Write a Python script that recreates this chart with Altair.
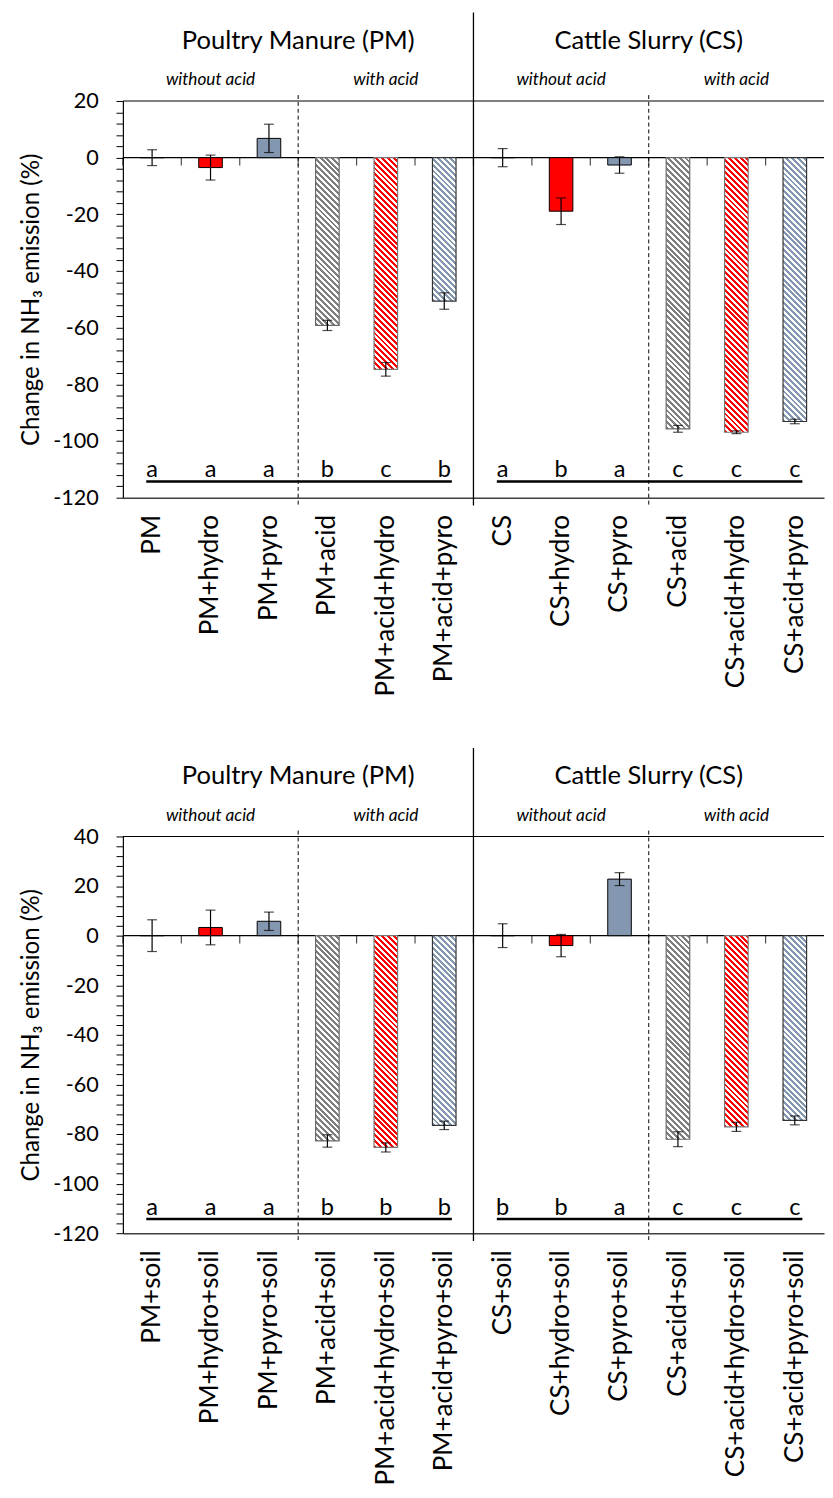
import altair as alt
import pandas as pd

# ---------------- data ----------------
cats_top = ["PM", "PM+hydro", "PM+pyro", "PM+acid", "PM+acid+hydro", "PM+acid+pyro",
            "CS", "CS+hydro", "CS+pyro", "CS+acid", "CS+acid+hydro", "CS+acid+pyro"]
vals_top = [0.0, -3.5, 6.8, -59.2, -74.7, -50.6, 0.0, -18.9, -2.6, -95.7, -96.9, -93.1]
errs_top = [2.8, 4.4, 5.0, 1.8, 2.4, 2.9, 3.2, 4.7, 2.9, 1.2, 0.5, 0.8]
letters_top = ["a", "a", "a", "b", "c", "b", "a", "b", "a", "c", "c", "c"]

cats_bot = ["PM+soil", "PM+hydro+soil", "PM+pyro+soil", "PM+acid+soil", "PM+acid+hydro+soil",
            "PM+acid+pyro+soil", "CS+soil", "CS+hydro+soil", "CS+pyro+soil", "CS+acid+soil",
            "CS+acid+hydro+soil", "CS+acid+pyro+soil"]
vals_bot = [0.0, 3.3, 5.8, -82.8, -85.4, -76.5, 0.0, -4.0, 22.8, -82.1, -77.1, -74.5]
errs_bot = [6.4, 7.0, 3.7, 2.5, 1.85, 1.7, 4.8, 4.5, 2.6, 3.0, 1.85, 1.8]
letters_bot = ["a", "a", "a", "b", "b", "b", "b", "b", "a", "c", "c", "c"]

kinds = ["none", "hydro", "pyro"] * 4
acid_flags = [False] * 3 + [True] * 3 + [False] * 3 + [True] * 3

group_titles = ["Poultry Manure (PM)", "Cattle Slurry (CS)"]
sub_titles = ["without acid", "with acid", "without acid", "with acid"]
y_title = "Change in NH\u2083 emission (%)"

# ---------------- style ----------------
W, H = 714, 404
BAR = 24
YMIN = -120
FONT = "Lato"
COL = {"none": "#7f7f7f", "hydro": "#ff0000", "pyro": "#8497b0"}
EDGE = {"none": "#6a6a6a", "hydro": "#777777", "pyro": "#333333"}


def stripes(color, h_px, w_px=BAR, period=6.0, frac=0.5):
    """45-degree 'downward diagonal' hatch as a striped linear gradient."""
    h_px = max(h_px, 1.0)
    r = h_px / w_px
    k = (1 + r) / (1 + r * r)
    n = (w_px + h_px) / period
    stops = []
    i = 0
    while i / n < 1:
        a = i / n
        b = min((i + frac) / n, 1.0)
        c = min((i + 1) / n, 1.0)
        stops += [{"offset": a, "color": color}, {"offset": b, "color": color},
                  {"offset": b, "color": "#ffffff"}, {"offset": c, "color": "#ffffff"}]
        i += 1
    return {"gradient": "linear", "x1": 0, "y1": 1, "x2": k, "y2": 1 - k * r, "stops": stops}


def panel(cats, vals, errs, letters, ymax):
    df = pd.DataFrame({"cat": cats, "value": vals, "err": errs, "letter": letters,
                       "kind": kinds, "acid": acid_flags})
    xs = alt.Scale(domain=cats, paddingInner=0, paddingOuter=0)
    ys = alt.Scale(domain=[YMIN, ymax], nice=False, zero=False)

    x_axis = alt.Axis(orient="bottom", title=None, labelAngle=270, labelFontSize=26.5,
                      labelFont=FONT, labelColor="black", labelPadding=17, labelLimit=600,
                      ticks=False, domain=True, domainColor="#404040", domainWidth=1.5,
                      grid=False)
    y_axis = alt.Axis(title=y_title, values=list(range(YMIN, ymax + 1, 4)),
                      labelExpr="datum.value % 20 == 0 ? '' + datum.value : ''",
                      tickSize=7, tickColor="black", domainColor="black", domainWidth=1.2,
                      labelPadding=18, labelFontSize=22, labelFont=FONT, labelColor="black",
                      titleFont=FONT, titleFontSize=24.5, titleFontWeight="normal",
                      titleColor="black", titlePadding=9, grid=False)

    base = alt.Chart(df)

    def X(field="cat", **kw):
        return alt.X(f"{field}:N", scale=xs, axis=x_axis, **kw)

    def Y(field):
        return alt.Y(f"{field}:Q", scale=ys, axis=y_axis)

    def YD(v):
        return alt.YDatum(v, axis=y_axis)

    layers = []

    # top border and zero line
    layers.append(alt.Chart(pd.DataFrame({"y": [ymax, 0]}))
                  .mark_rule(color="black", strokeWidth=1.2)
                  .encode(y=Y("y")))

    # separators
    layers.append(alt.Chart(pd.DataFrame({"at": [cats[3], cats[9]]}))
                  .mark_rule(color="black", strokeWidth=1, strokeDash=[4, 3])
                  .encode(x=X("at", bandPosition=0), y=alt.value(-6), y2=alt.value(H + 8)))
    layers.append(alt.Chart(pd.DataFrame({"at": [cats[6]]}))
                  .mark_rule(color="black", strokeWidth=1.3)
                  .encode(x=X("at", bandPosition=0), y=alt.value(-90), y2=alt.value(H + 8)))

    # solid bars
    layers.append(base.transform_filter("!datum.acid")
                  .mark_bar(size=BAR, stroke="black", strokeWidth=1)
                  .encode(x=X(), y=Y("value"),
                          fill=alt.Fill("kind:N", scale=alt.Scale(domain=list(COL),
                                                                  range=list(COL.values())),
                                        legend=None)))

    # hatched bars (acid)
    span = ymax - YMIN
    for c, v, kd, ac in zip(cats, vals, kinds, acid_flags):
        if not ac:
            continue
        h_px = abs(v) * H / span
        layers.append(base.transform_filter(alt.datum.cat == c)
                      .mark_bar(size=BAR, fill=stripes(COL[kd], h_px), stroke=EDGE[kd],
                                strokeWidth=1.2)
                      .encode(x=X(), y=Y("value")))

    # category ticks hanging below the zero line
    layers.append(base.mark_tick(orient="vertical", size=8, thickness=1.2, color="black", yOffset=4)
                  .encode(x=X(bandPosition=0), y=YD(0)))

    # error bars
    eb = base.transform_calculate(lo="datum.value - datum.err", hi="datum.value + datum.err")
    layers.append(eb.mark_rule(color="black", strokeWidth=1.2).encode(x=X(), y=Y("lo"), y2="hi:Q"))
    layers.append(eb.mark_tick(size=10, thickness=1.2, color="black").encode(x=X(), y=Y("lo")))
    layers.append(eb.mark_tick(size=10, thickness=1.2, color="black").encode(x=X(), y=Y("hi")))

    # significance letters
    layers.append(base.mark_text(fontSize=24, font=FONT, baseline="alphabetic", color="black")
                  .encode(x=X(), y=YD(-112.8), text="letter:N"))
    layers.append(alt.Chart(pd.DataFrame({"start": [cats[0], cats[6]], "end": [cats[5], cats[11]]}))
                  .mark_rule(color="black", strokeWidth=2.5)
                  .encode(x=X("start", bandPosition=0.4),
                          x2=alt.X2("end:N", bandPosition=0.63),
                          y=YD(-114.3)))

    # group titles
    layers.append(alt.Chart(pd.DataFrame({"label": group_titles, "at": [cats[3], cats[9]]}))
                  .mark_text(fontSize=26, font=FONT, baseline="alphabetic", color="black")
                  .encode(x=X("at", bandPosition=0), y=alt.value(-53), text="label:N"))
    layers.append(alt.Chart(pd.DataFrame({"label": sub_titles,
                                          "at": [cats[1], cats[4], cats[7], cats[10]]}))
                  .mark_text(fontSize=17.5, font=FONT, fontStyle="italic", baseline="alphabetic",
                             color="black")
                  .encode(x=X("at"), y=alt.value(-16), text="label:N"))

    return alt.layer(*layers).properties(width=W, height=H)


top = panel(cats_top, vals_top, errs_top, letters_top, 20)
bottom = panel(cats_bot, vals_bot, errs_bot, letters_bot, 40)

chart = (alt.vconcat(top, bottom, spacing=52)
         .properties(padding={"left": 11, "top": -10, "right": 0, "bottom": 0})
         .configure(font=FONT)
         .configure_view(stroke=None))

chart.save("out.html", embed_options={"renderer": "svg", "actions": False})
